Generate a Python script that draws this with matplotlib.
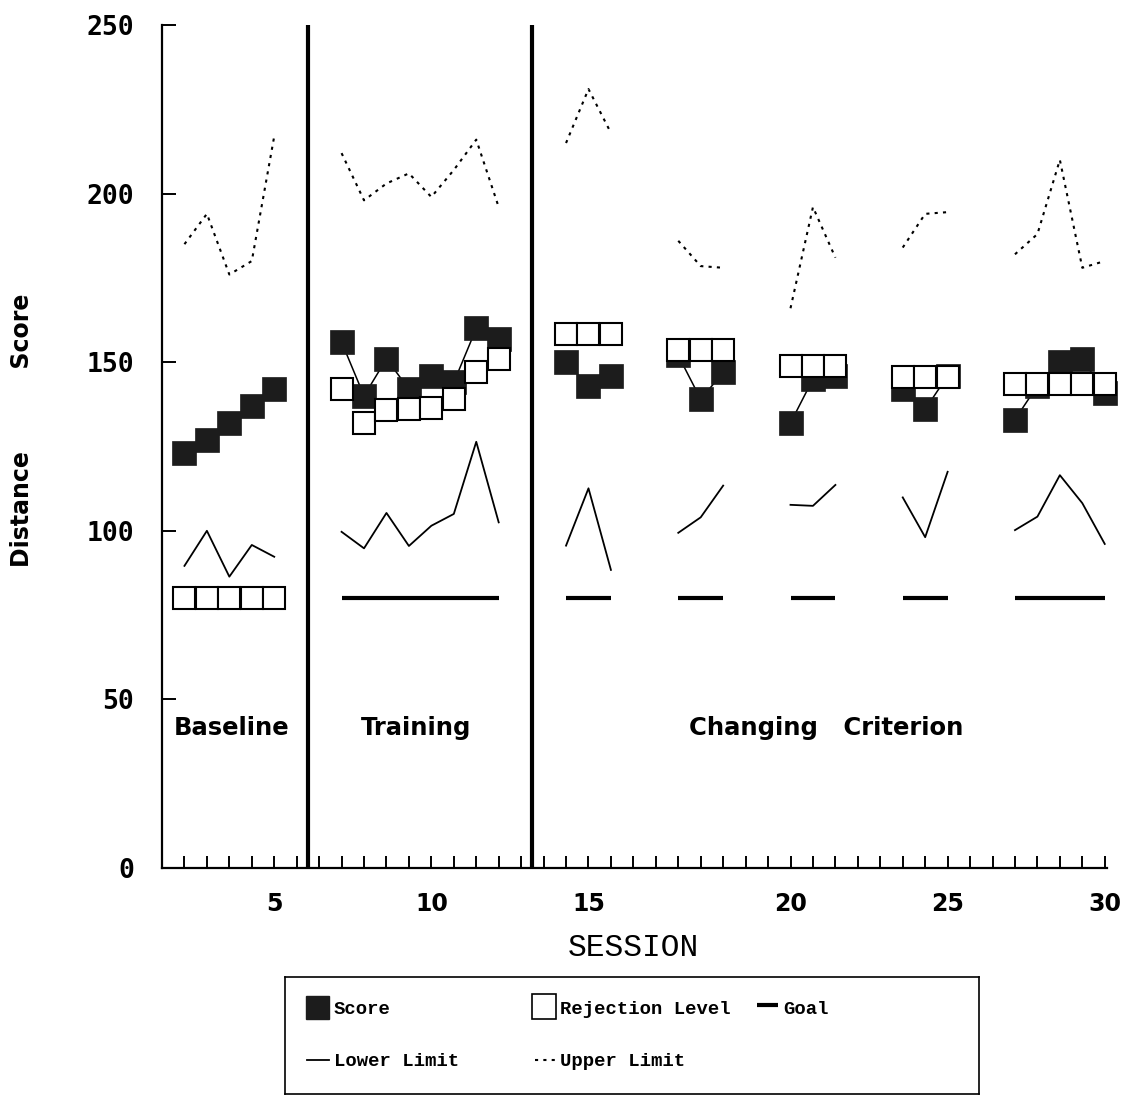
import numpy as np
import matplotlib.pyplot as plt
from matplotlib.patches import Rectangle

# sessions per block: baseline, training, then five changing-criterion steps
block_sizes = [5, 8, 3, 3, 3, 3, 5]

score = [123, 127, 132, 137, 142,
         156, 140, 151, 142, 146, 144, 160, 157,
         150, 143, 146,
         152, 139, 147,
         132, 145, 146,
         142, 136, 146,
         133, 143, 150, 151, 141]

rejection = [80, 80, 80, 80, 80,
             142, 132, 135.8, 136.1, 136.5, 139, 147, 151,
             158.5, 158.5, 158.5,
             153.5, 153.5, 153.5,
             148.8, 148.8, 148.8,
             145.6, 145.6, 145.6,
             143.5, 143.5, 143.5, 143.5, 143.5]

goal = [np.nan] * 5 + [80] * 25

lower = [89.6, 100.0, 86.4, 95.8, 92.3,
         99.7, 94.8, 105.3, 95.5, 101.5, 105.0, 126.4, 102.5,
         95.6, 112.6, 88.4,
         99.4, 104.0, 113.4,
         107.7, 107.4, 113.6,
         109.9, 98.1, 117.5,
         100.2, 104.2, 116.5, 108.2, 96.1]

upper = [185, 194, 176, 180, 217,
         212, 198, 203, 206, 199, 207, 216, 196,
         215, 231, 218,
         186, 178.5, 178,
         166, 196, 181,
         184, 194, 194.5,
         182, 188, 210, 178, 180]

tick_sessions = [5, 10, 15, 20, 25, 30]
phase_names = ["Baseline", "Training", "Changing   Criterion"]

# slot of each session on the x axis: blocks are separated by two empty slots
block_id = np.repeat(np.arange(len(block_sizes)), block_sizes)
session = np.arange(1, len(block_id) + 1)
xpos = session - 1 + 2 * block_id


def broken(values):
    # NaN between blocks so lines stop at each phase change
    xs, ys = [], []
    vals = np.asarray(values, float)
    for b in range(len(block_sizes)):
        m = block_id == b
        xs += list(xpos[m]) + [np.nan]
        ys += list(vals[m]) + [np.nan]
    return xs, ys


fig = plt.figure(figsize=(11.22, 10.96), dpi=100)
ax = fig.add_axes([162 / 1122, 1 - 868 / 1096, (1107 - 162) / 1122, (868 - 25) / 1096])

ax.plot(*broken(lower), color="black", lw=1.3, zorder=2)
ax.plot(*broken(upper), color="black", lw=1.5, ls=(0, (1.5, 2.5)), zorder=2)
ax.plot(*broken(goal), color="black", lw=3, solid_capstyle="butt", zorder=2)
ax.plot(*broken(score), color="black", lw=1.1, zorder=3)
ax.plot(xpos, score, ls="none", marker="s", ms=16.6, mfc="#1c1c1c", mec="#1c1c1c",
        mew=0.5, zorder=4, clip_on=False)
ax.plot(xpos, rejection, ls="none", marker="s", ms=16.2, mfc="white", mec="black",
        mew=1.5, zorder=5, clip_on=False)

# phase change lines
ends = np.cumsum(block_sizes)
for e in ends[:2]:
    ax.axvline((xpos[e - 1] + xpos[e]) / 2, color="black", lw=3, zorder=6)

# phase names, centred over each phase's span
pfont = dict(ha="center", va="center", fontsize=17.5, fontweight="bold")
spans = [xpos[block_id == 0], xpos[block_id == 1], xpos[block_id >= 2]]
shifts = [0.1, -0.2, -0.4]
for name, sp, dx in zip(phase_names, spans, shifts):
    ax.text((sp.min() + sp.max()) / 2 + dx, 41.5, name, **pfont)

ax.set_xlim(-1, 41.1)
ax.set_ylim(0, 250)
for s in ["top", "right"]:
    ax.spines[s].set_visible(False)
for s in ["left", "bottom"]:
    ax.spines[s].set_linewidth(1.6)

slots = np.arange(0, xpos.max() + 1)
lab = {xpos[t - 1]: str(t) for t in tick_sessions}
ax.set_xticks(slots)
ax.set_xticklabels([lab.get(s, "") for s in slots], fontsize=17, fontweight="bold")
ax.tick_params(axis="x", direction="in", length=9, width=1.4, pad=17)

ax.set_yticks(range(0, 251, 50))
ax.set_yticklabels([str(v) for v in range(0, 251, 50)], family="DejaVu Sans Mono",
                   fontsize=19, fontweight="bold")
ax.tick_params(axis="y", direction="in", length=10, width=1.4, pad=20)

fig.text(22 / 1122, 1 - 430 / 1096, "Distance          Score", rotation=90, ha="center",
         va="center", fontsize=17, fontweight="bold")
fig.text(633 / 1122, 1 - 948 / 1096, "SESSION", ha="center", va="center",
         family="Liberation Mono", fontsize=22.5)

# legend box, drawn in its own pixel-like coordinates
lax = fig.add_axes([285 / 1122, 1 - 1094 / 1096, 694 / 1122, 117 / 1096])
lax.set_xlim(285, 979)
lax.set_ylim(1094, 977)
lax.set_xticks([])
lax.set_yticks([])
for s in lax.spines.values():
    s.set_linewidth(1.2)

lfont = dict(family="Liberation Mono", fontsize=13.6, fontweight="bold", va="center")
lax.add_patch(Rectangle((306, 996), 23, 23, facecolor="#1c1c1c", edgecolor="#1c1c1c"))
lax.text(334, 1010, "Score", **lfont)
lax.add_patch(Rectangle((532, 994), 24, 25, facecolor="white", edgecolor="black", lw=1.2))
lax.text(560, 1010, "Rejection Level", **lfont)
lax.plot([757, 778], [1005, 1005], color="black", lw=3, solid_capstyle="butt")
lax.text(783, 1010, "Goal", **lfont)
lax.plot([307, 329], [1060, 1060], color="black", lw=1.3)
lax.text(334, 1062, "Lower Limit", **lfont)
lax.plot([535, 556], [1060, 1060], color="black", lw=1.5, ls=(0, (1.5, 2.5)))
lax.text(560, 1062, "Upper Limit", **lfont)

fig.savefig("out.png", dpi=100)
